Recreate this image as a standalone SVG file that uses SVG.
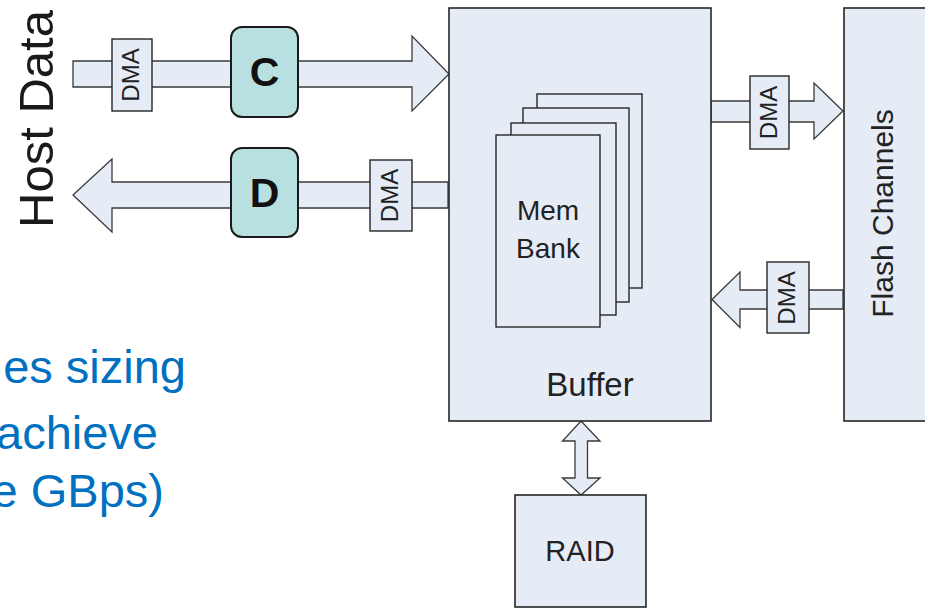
<svg xmlns="http://www.w3.org/2000/svg" width="925" height="608" viewBox="0 0 925 608">
<style>
.box{fill:#E6ECF6;stroke:#262626;stroke-width:1.6}
.arr{fill:#E6ECF6;stroke:#3a3a3a;stroke-width:1.3;stroke-linejoin:miter}
.dma{fill:#E6ECF6;stroke:#262626;stroke-width:1.4}
.cd{fill:#B9E0E0;stroke:#1a1a1a;stroke-width:2}
.lbl{font-family:"Liberation Sans",Arial,sans-serif;fill:#222;text-anchor:middle}
.dt{font-family:"Liberation Sans",Arial,sans-serif;fill:#222;text-anchor:middle;font-size:24px}
.blue{font-family:"Liberation Sans",Arial,sans-serif;fill:#0070C0;font-size:47px;text-anchor:end}
</style>
<rect width="925" height="608" fill="#ffffff"/>
<g id="connectors">
<polygon class="arr" points="73,61 412,61 412,36 449,74 412,111 412,87 73,87"/>
<polygon class="arr" points="448,182 112,182 112,159 73,195 112,232 112,208 448,208"/>
<polygon class="arr" points="711,101 814,101 814,83 843,111 814,139 814,122 711,122"/>
<polygon class="arr" points="843,290 740,290 740,272 712,299.5 740,327.5 740,309 843,309"/>
<polygon class="arr" points="581,421 600,441 587.5,441 587.5,478 600,478 581,495 562.5,478 575,478 575,441 562.5,441"/>
</g>
<g id="host-data">
<text class="lbl" font-size="49" transform="translate(53,119) rotate(-90)" style="fill:#1a1a1a">Host Data</text>
</g>
<g id="dma-host-in">
<rect class="dma" x="112" y="39" width="40" height="72"/>
<text class="dt" transform="translate(139,75) rotate(-90)">DMA</text>
</g>
<g id="compress">
<rect class="cd" x="231" y="27" width="67" height="90" rx="11"/>
<text class="lbl" font-size="41" font-weight="bold" x="264.5" y="86" style="fill:#111">C</text>
</g>
<g id="decompress">
<rect class="cd" x="231" y="148" width="67" height="89" rx="11"/>
<text class="lbl" font-size="41" font-weight="bold" x="264.5" y="207" style="fill:#111">D</text>
</g>
<g id="dma-host-out">
<rect class="dma" x="370" y="160" width="42" height="71"/>
<text class="dt" transform="translate(398,195.5) rotate(-90)">DMA</text>
</g>
<g id="buffer">
<rect class="box" x="449" y="8" width="262" height="413"/>
<text class="lbl" font-size="33" x="590" y="396">Buffer</text>
</g>
<g id="mem-bank">
<rect class="box" x="537" y="94" width="105" height="194" style="stroke-width:1.4"/>
<rect class="box" x="523" y="108" width="106" height="194" style="stroke-width:1.4"/>
<rect class="box" x="511" y="123" width="105" height="192" style="stroke-width:1.4"/>
<rect class="box" x="496" y="135" width="104" height="192" style="stroke-width:1.4"/>
<text class="lbl" font-size="28" x="548" y="220">Mem</text>
<text class="lbl" font-size="28" x="548" y="257.5">Bank</text>
</g>
<g id="dma-flash-out">
<rect class="dma" x="750" y="76" width="39" height="73"/>
<text class="dt" transform="translate(777,112.5) rotate(-90)">DMA</text>
</g>
<g id="dma-flash-in">
<rect class="dma" x="767" y="262" width="42" height="71"/>
<text class="dt" transform="translate(795,298) rotate(-90)">DMA</text>
</g>
<g id="flash-channels">
<rect class="box" x="844" y="8" width="100" height="413"/>
<text class="lbl" font-size="30" transform="translate(893,213.5) rotate(-90)">Flash Channels</text>
</g>
<g id="raid">
<rect class="box" x="515" y="495" width="131" height="112"/>
<text class="lbl" font-size="29" x="580" y="561">RAID</text>
</g>
<g id="notes">
<text class="blue" x="186" y="383">es sizing</text>
<text class="blue" x="158" y="449">achieve</text>
<text class="blue" x="164" y="507">e GBps)</text>
</g>
</svg>
